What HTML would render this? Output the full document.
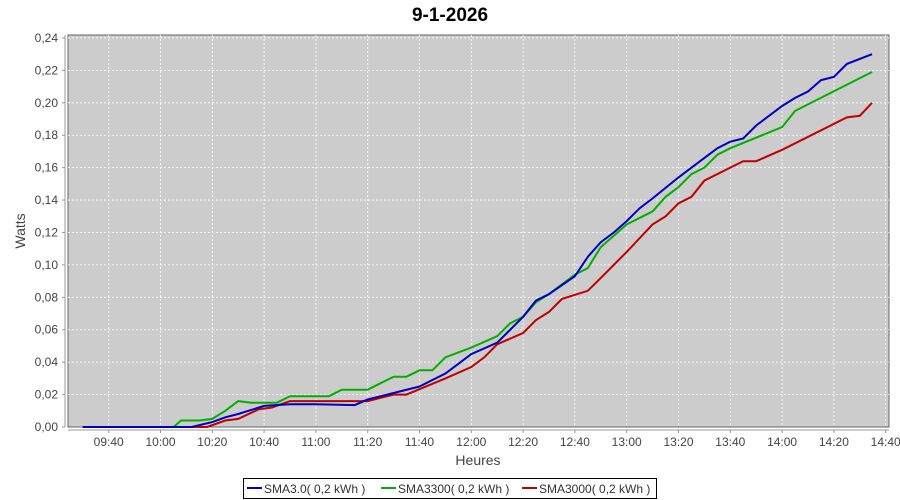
<!DOCTYPE html><html><head><meta charset="utf-8"><style>body{margin:0;background:#fff}svg{display:block;font-family:"Liberation Sans",sans-serif}</style></head><body>
<svg id="s" width="900" height="500" xmlns="http://www.w3.org/2000/svg">
<text x="450" y="21" text-anchor="middle" font-size="19" font-weight="bold" fill="#000">9-1-2026</text>
<rect x="68" y="35" width="821" height="392" fill="#cccccc" stroke="#666" stroke-width="1"/>
<g id="grid"></g>
<line x1="65" y1="35" x2="65" y2="427" stroke="#999"/>
<line x1="68" y1="430" x2="889" y2="430" stroke="#999"/>
<g id="lab" font-size="12" fill="#444"></g>
<text transform="translate(25,231) rotate(-90)" text-anchor="middle" font-size="14" fill="#444">Watts</text>
<text x="478" y="465" text-anchor="middle" font-size="14" fill="#444">Heures</text>
<g id="ser" fill="none" stroke-width="2"></g>
<rect x="243.5" y="478.5" width="413" height="20" fill="#fff" stroke="#000"/>
<line x1="247" y1="488" x2="262" y2="488" stroke="#0000c0" stroke-width="2"/>
<text x="264" y="493" font-size="12" fill="#333">SMA3.0( 0,2 kWh )</text>
<line x1="381" y1="488" x2="396" y2="488" stroke="#00b000" stroke-width="2"/>
<text x="398" y="493" font-size="12" fill="#333">SMA3300( 0,2 kWh )</text>
<line x1="522" y1="488" x2="537" y2="488" stroke="#c00000" stroke-width="2"/>
<text x="539" y="493" font-size="12" fill="#333">SMA3000( 0,2 kWh )</text>
</svg>
<script>
const NS="http://www.w3.org/2000/svg";
function X(h,m){return 108.7+((h*60+m)-580)*2.59}
function Y(v){return 427-v*1621}
function el(p,t,a,txt){const e=document.createElementNS(NS,t);for(const k in a)e.setAttribute(k,a[k]);if(txt)e.textContent=txt;document.getElementById(p).appendChild(e);}
for(let i=0;i<=12;i++){const v=i*0.02,y=Y(v);
 if(i>0&&i<12||i==12)el("grid","line",{x1:68,x2:889,y1:y,y2:y,stroke:"#fff","stroke-dasharray":"2,2","stroke-width":0.8});
 el("grid","line",{x1:62,x2:65,y1:y,y2:y,stroke:"#999"});
 el("lab","text",{x:58,y:y+4,"text-anchor":"end"},v.toFixed(2).replace(".",","));}
for(let i=0;i<16;i++){const tm=580+i*20,x=108.7+i*20*2.59,h=Math.floor(tm/60),m=tm%60;
 el("grid","line",{x1:x,x2:x,y1:35,y2:427,stroke:"#fff","stroke-dasharray":"2,2","stroke-width":0.8});
 el("grid","line",{x1:x,x2:x,y1:430,y2:433,stroke:"#999"});
 el("lab","text",{x:x,y:446,"text-anchor":"middle"},(h<10?"0":"")+h+":"+(m<10?"0":"")+m);}
function P(d){return d.map(p=>{const [t,v]=p;const h=Math.floor(t),m=(t-h)*100;return X(h,m).toFixed(1)+","+Y(v).toFixed(1)}).join(" ")}
const B=[[9.30,0],[10.12,0],[10.20,.003],[10.25,.006],[10.30,.008],[10.40,.013],[10.50,.014],[11.00,.014],[11.15,.0135],[11.20,.017],[11.30,.021],[11.40,.025],[11.50,.033],[12.00,.045],[12.10,.052],[12.20,.068],[12.25,.078],[12.30,.082],[12.40,.093],[12.45,.105],[12.50,.114],[12.55,.12],[13.00,.127],[13.05,.135],[13.10,.141],[13.20,.154],[13.30,.166],[13.35,.172],[13.40,.176],[13.45,.178],[13.50,.186],[14.00,.198],[14.05,.203],[14.10,.207],[14.15,.214],[14.20,.216],[14.25,.224],[14.347,.23]];
const G=[[9.30,0],[10.05,0],[10.08,.004],[10.15,.004],[10.20,.005],[10.25,.01],[10.30,.016],[10.35,.015],[10.45,.015],[10.50,.019],[11.05,.019],[11.10,.023],[11.20,.023],[11.25,.027],[11.30,.031],[11.35,.031],[11.40,.035],[11.45,.035],[11.50,.043],[12.00,.049],[12.10,.056],[12.15,.064],[12.20,.068],[12.25,.077],[12.30,.082],[12.40,.094],[12.45,.098],[12.50,.111],[13.00,.125],[13.10,.133],[13.15,.142],[13.20,.148],[13.25,.156],[13.30,.16],[13.35,.168],[13.40,.172],[14.00,.185],[14.05,.195],[14.347,.219]];
const R=[[9.30,0],[10.18,0],[10.25,.004],[10.30,.005],[10.38,.011],[10.43,.012],[10.50,.016],[11.20,.016],[11.30,.02],[11.35,.02],[11.50,.03],[12.00,.037],[12.05,.043],[12.10,.051],[12.20,.058],[12.25,.066],[12.30,.071],[12.35,.079],[12.45,.084],[12.50,.092],[13.00,.108],[13.10,.125],[13.15,.13],[13.20,.138],[13.25,.142],[13.30,.152],[13.40,.16],[13.45,.164],[13.50,.164],[14.00,.171],[14.25,.191],[14.30,.192],[14.347,.2]];
el("ser","polyline",{points:P(G),stroke:"#00b000"});
el("ser","polyline",{points:P(R),stroke:"#c00000"});
el("ser","polyline",{points:P(B),stroke:"#0000c0"});
</script>
</body></html>
